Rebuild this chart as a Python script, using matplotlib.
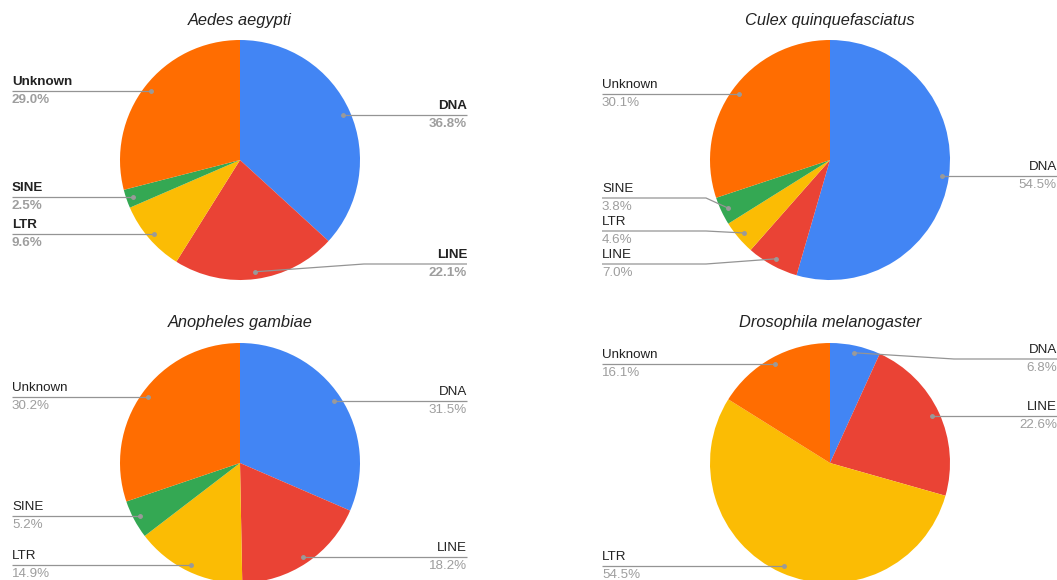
import numpy as np
import matplotlib
matplotlib.use('Agg')
import matplotlib.pyplot as plt

# Data
categories = ['DNA', 'LINE', 'LTR', 'SINE', 'Unknown']
species = ['Aedes aegypti', 'Culex quinquefasciatus', 'Anopheles gambiae', 'Drosophila melanogaster']
aedes = [36.8, 22.1, 9.6, 2.5, 29.0]
culex = [54.5, 7.0, 4.6, 3.8, 30.1]
anopheles = [31.5, 18.2, 14.9, 5.2, 30.2]
drosophila = [6.8, 22.6, 54.5, 0.0, 16.1]
all_values = [aedes, culex, anopheles, drosophila]

colors = ['#4285F4', '#EA4335', '#FBBC04', '#34A853', '#FF6D01']
W, H = 1057, 580
centers = [(240, 160), (830, 160), (240, 463), (830, 463)]  # pixel coords
R = 120
bold_panel = [True, False, False, False]

plt.rcParams['font.family'] = ['Liberation Sans', 'DejaVu Sans']

fig = plt.figure(figsize=(W / 100, H / 100), dpi=100)
ax = fig.add_axes([0, 0, 1, 1])


def spread(ys, lo, hi, gap=33):
    # push label rows apart so they don't overlap, keep them inside [lo, hi]
    order = np.argsort(ys)
    pos = np.array(ys, dtype=float)[order]
    for _ in range(200):
        pos = np.clip(pos, lo, hi)
        for i in range(len(pos) - 1):
            d = pos[i + 1] - pos[i]
            if d < gap:
                shift = (gap - d) / 2
                pos[i] -= shift
                pos[i + 1] += shift
    pos = np.clip(pos, lo, hi)
    out = np.empty(len(ys))
    out[order] = pos
    return out


for k, vals in enumerate(all_values):
    cx, cy = centers[k]
    ax.pie(vals, colors=colors, startangle=90, counterclock=False,
           center=(cx, H - cy), radius=R, wedgeprops=dict(linewidth=0))
    ax.text(cx, H - (cy - 140), species[k], ha='center', va='center',
            fontsize=11.8, style='italic', color='#222222')

    weight = 'bold' if bold_panel[k] else 'normal'
    total = sum(vals)
    start = 0.0
    items = []
    for name, v in zip(categories, vals):
        if v <= 0:
            continue
        mid = (start + v / 2) / total * 2 * np.pi
        start += v
        dx = 0.94 * R * np.sin(mid)
        dy = -0.94 * R * np.cos(mid)
        items.append((name, v, cx + dx, cy + dy, dx >= 0))

    for side in (True, False):
        grp = [it for it in items if it[4] == side]
        if not grp:
            continue
        ys = spread([it[3] for it in grp], cy - R + 16, cy + R - 16)
        for (name, v, px, py, right), ly in zip(grp, ys):
            if right:
                tx, elbow, ha = cx + 227, cx + R + 4, 'right'
            else:
                tx, elbow, ha = cx - 228, cx - R - 4, 'left'
            ax.plot([px, elbow, tx], [H - py, H - ly, H - ly],
                    color='#949494', lw=0.9, solid_capstyle='butt')
            ax.plot(px, H - py, 'o', color='#9a9a9a', markersize=2.5)
            ax.text(tx, H - ly + 3, name, ha=ha, va='bottom', fontsize=9.6,
                    color='#222222', fontweight=weight)
            ax.text(tx, H - ly - 3, f'{v:.1f}%', ha=ha, va='top', fontsize=9.6,
                    color='#9e9e9e', fontweight=weight)

ax.set_xlim(0, W)
ax.set_ylim(0, H)
ax.set_aspect('auto')
ax.axis('off')

fig.savefig('out.png', dpi=100)
